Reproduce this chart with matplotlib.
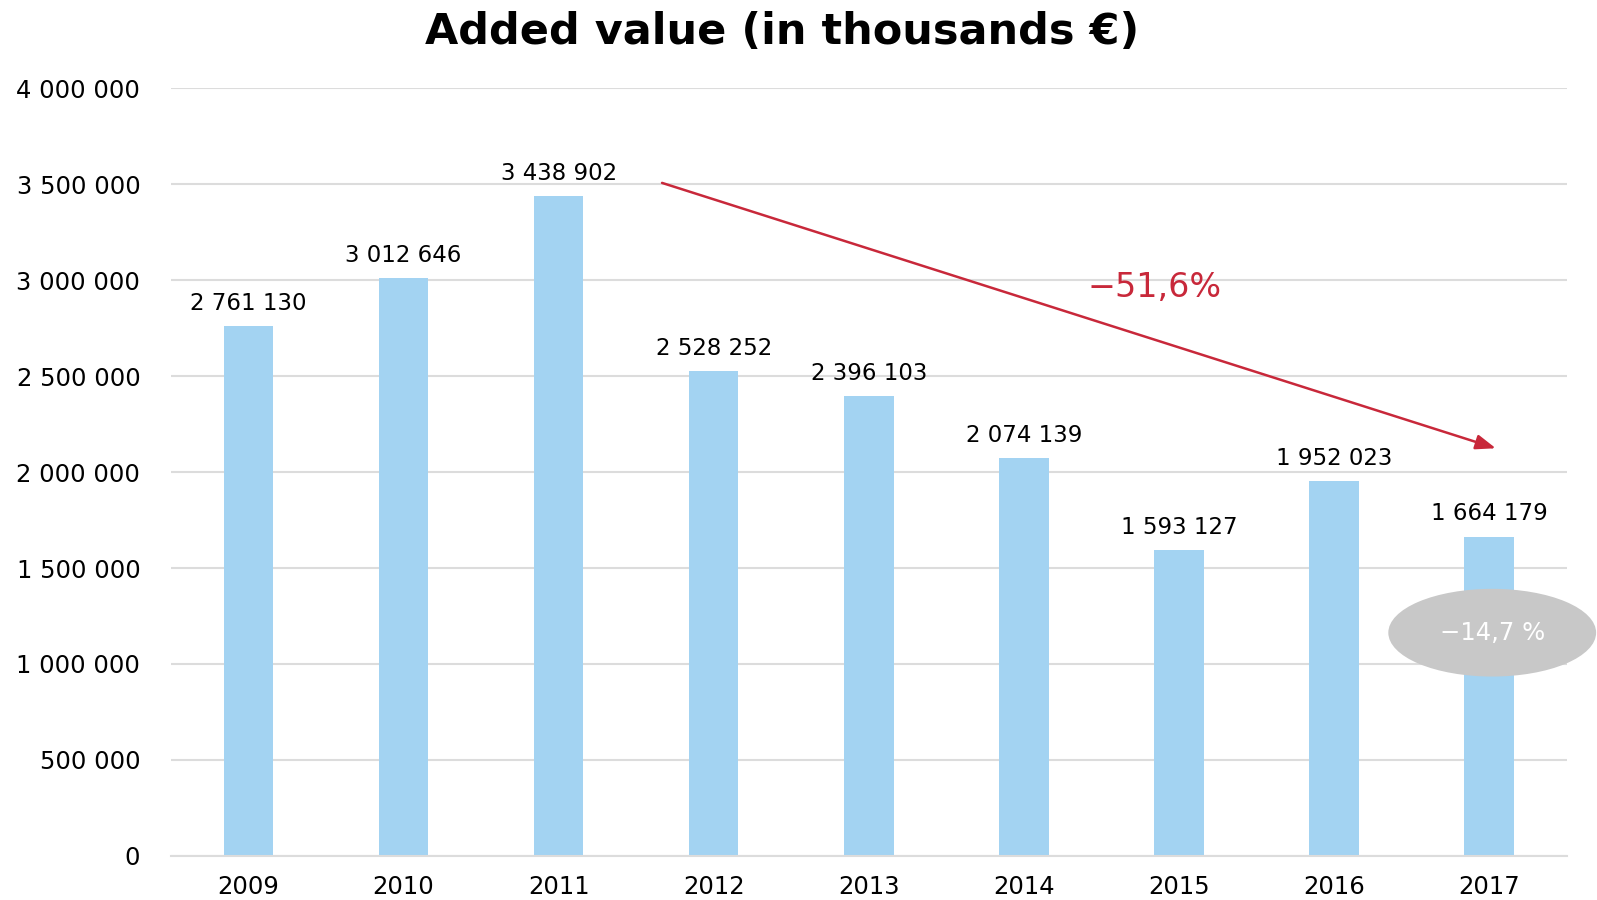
import matplotlib.pyplot as plt
from matplotlib.patches import Ellipse

years = ["2009", "2010", "2011", "2012", "2013", "2014", "2015", "2016", "2017"]
values = [2761130, 3012646, 3438902, 2528252, 2396103, 2074139, 1593127, 1952023, 1664179]
y_ticks = [0, 500000, 1000000, 1500000, 2000000, 2500000, 3000000, 3500000, 4000000]


def spaced(v):
    return "{:,}".format(v).replace(",", " ")


plt.rcParams['font.family'] = ['DejaVu Sans']

fig = plt.figure(figsize=(15.97, 9), dpi=100)
ax = fig.add_axes([0.107, 0.049, 0.874, 0.853])

x = range(len(years))
bars = ax.bar(x, values, width=0.32, color="#a3d3f2", zorder=2)

for xi, v in zip(x, values):
    ax.annotate(spaced(v), (xi, v), xytext=(0, 8), textcoords="offset points",
                ha="center", va="bottom", fontsize=16.5)

ax.set_xlim(-0.5, len(years) - 0.5)
ax.set_ylim(0, 4000000)
ax.set_yticks(y_ticks)
ax.set_yticklabels([spaced(t) for t in y_ticks], fontsize=17.5)
ax.set_xticks(list(x))
ax.set_xticklabels(years, fontsize=17.5)
ax.tick_params(length=0)
ax.tick_params(axis="y", pad=22)
ax.tick_params(axis="x", pad=14)
ax.grid(axis="y", color="#dcdcdc", linewidth=1.5, zorder=0)
for s in ["top", "right", "left"]:
    ax.spines[s].set_visible(False)
ax.spines["bottom"].set_color("#dcdcdc")
ax.spines["bottom"].set_linewidth(1.5)

# trend arrow from 2011 peak
ax.annotate("", xy=(8.06, 2119500), xytext=(2.65, 3511000),
            arrowprops=dict(arrowstyle="-|>,head_length=1.2,head_width=0.45",
                            color="#c8283a", lw=1.8), zorder=4)
ax.text(5.84, 2960000, "−51,6%", color="#c8283a", fontsize=24,
        ha="center", va="center")

ell = Ellipse((8.02, 1163000), 1.34, 457000, facecolor="#c8c8c8",
              edgecolor="none", clip_on=False, zorder=5)
ax.add_patch(ell)
ax.text(8.02, 1163000, "−14,7 %", color="white", fontsize=17.5,
        ha="center", va="center", zorder=6)

fig.text(0.49, 0.964, "Added value (in thousands €)", fontsize=31,
         fontweight="bold", ha="center", va="center")

plt.savefig("out.png")
